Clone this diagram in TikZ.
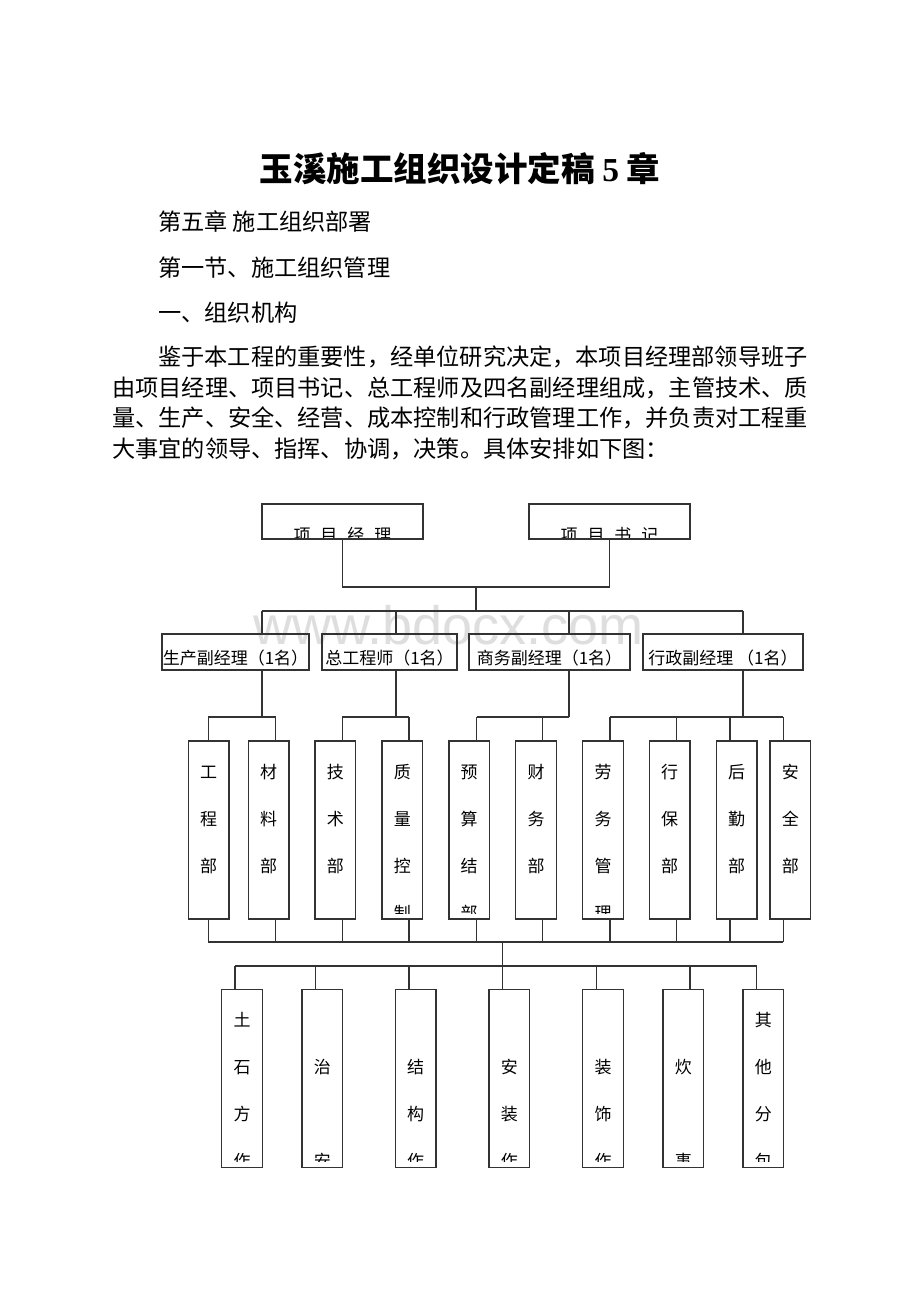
\documentclass[tikz,border=0pt]{standalone}
\usepackage{fontspec}
\setmainfont{Liberation Serif}
\newfontfamily\cjk{Noto Sans CJK SC}
\newfontfamily\wmfont{Liberation Sans}
\definecolor{linec}{gray}{0.2}
\definecolor{wmark}{gray}{0.87}

\begin{document}
\begin{tikzpicture}[x=1pt, y=-1pt,
    txt/.style={anchor=base west, inner sep=0pt, font=\cjk\fontsize{23.2}{28}\selectfont},
    lead/.style={draw=linec, line width=1.2pt, minimum width=161, minimum height=35, inner sep=0pt, outer sep=0pt,
        path picture={\node[anchor=base, inner sep=0pt, font=\cjk\fontsize{17}{17}\selectfont]
            at ([yshift=-37.5pt]path picture bounding box.north) {#1};}},
    mgr/.style={draw=linec, line width=1.2pt, minimum height=36, inner sep=0pt, outer sep=0pt,
        font=\cjk\fontsize{17}{17}\selectfont, text height=30.5pt, text depth=5.5pt},
    dept/.style={draw=linec, line width=1.2pt, minimum width=40.6, minimum height=178, inner sep=0pt, outer sep=0pt,
        path picture={\clip ([yshift=6pt]path picture bounding box.south west) rectangle (path picture bounding box.north east);
            \foreach \c [count=\i] in {#1} {\node[anchor=base, inner sep=0pt, font=\cjk\fontsize{17}{17}\selectfont]
                at ([yshift={10pt-\i*47pt}]path picture bounding box.north) {\c};}}},
    link/.style={draw=linec, line width=1.2pt}
]
    \useasboundingbox[fill=white] (0,0) rectangle (920,1302);

    % watermark behind the chart
    \node[anchor=base west, inner sep=0pt, text=wmark, font=\wmfont\fontsize{54}{54}\selectfont] (wm) at (253,644) {www.bdocx.com};

    % heading and text
    \node[anchor=base, inner sep=0pt, font=\cjk\bfseries\fontsize{33.5}{40}\selectfont] (title) at (460,181.7) {玉溪施工组织设计定稿 {\rmfamily\bfseries 5} 章};
    \node[txt] (h1) at (158,230.8) {第五章 施工组织部署};
    \node[txt] (h2) at (158,276.3) {第一节、施工组织管理};
    \node[txt] (h3) at (158,321.8) {一、组织机构};
    \node[txt] (p1) at (158,365.3) {鉴于本工程的重要性，经单位研究决定，本项目经理部领导班子};
    \node[txt] (p2) at (112,396.1) {由项目经理、项目书记、总工程师及四名副经理组成，主管技术、质};
    \node[txt] (p3) at (112,426.9) {量、生产、安全、经营、成本控制和行政管理工作，并负责对工程重};
    \node[txt] (p4) at (112,457.7) {大事宜的领导、指挥、协调，决策。具体安排如下图：};

    % leaders
    \node[lead={项\hspace{10pt}目\hspace{10pt}经\hspace{10pt}理}] (pm) at (342.5,521.5) {};
    \node[lead={项\hspace{10pt}目\hspace{10pt}书\hspace{10pt}记}] (sec) at (609.5,521.5) {};

    % deputy managers
    \node[mgr, minimum width=147] (m1) at (235.5,652) {生产副经理（1名）};
    \node[mgr, minimum width=135] (m2) at (389.5,652) {总工程师（1名）};
    \node[mgr, minimum width=161] (m3) at (549.5,652) {商务副经理（1名）};
    \node[mgr, minimum width=160] (m4) at (723,652) {行政副经理 （1名）};

    % departments
    \node[dept={工,程,部}] (d1) at (208.7,830) {};
    \node[dept={材,料,部}] (d2) at (268.7,830) {};
    \node[dept={技,术,部}] (d3) at (335.3,830) {};
    \node[dept={质,量,控,制}] (d4) at (402.3,830) {};
    \node[dept={预,算,结,部}] (d5) at (469.2,830) {};
    \node[dept={财,务,部}] (d6) at (536,830) {};
    \node[dept={劳,务,管,理}] (d7) at (603,830) {};
    \node[dept={行,保,部}] (d8) at (669.7,830) {};
    \node[dept={后,勤,部}] (d9) at (736.7,830) {};
    \node[dept={安,全,部}] (d10) at (790.3,830) {};

    % work teams
    \node[dept={土,石,方,作}] (b1) at (242,1078.8) {};
    \node[dept={{},治,{},安}] (b2) at (322.3,1078.8) {};
    \node[dept={{},结,构,作}] (b3) at (415.7,1078.8) {};
    \node[dept={{},安,装,作}] (b4) at (509.3,1078.8) {};
    \node[dept={{},装,饰,作}] (b5) at (603,1078.8) {};
    \node[dept={{},炊,{},事}] (b6) at (683.3,1078.8) {};
    \node[dept={其,他,分,包}] (b7) at (763.3,1078.8) {};

    % junction points
    \coordinate (top) at (476,587);
    \coordinate (mbus) at (476,611);
    \coordinate (ma1) at (262,611);
    \coordinate (ma2) at (396,611);
    \coordinate (ma3) at (569,611);
    \coordinate (ma4) at (743,611);
    \coordinate (da1) at (208.3,717);
    \coordinate (da2) at (275.7,717);
    \coordinate (da3) at (342.3,717);
    \coordinate (da4) at (409,717);
    \coordinate (da5) at (476.7,717);
    \coordinate (da6) at (542.7,717);
    \coordinate (da7) at (610,717);
    \coordinate (da8) at (676.7,717);
    \coordinate (da9) at (730,717);
    \coordinate (da10) at (783.3,717);
    \coordinate (dbus) at (502.7,942);
    \coordinate (lbus) at (502.7,966);
    \coordinate (la1) at (235,966);
    \coordinate (la2) at (315.7,966);
    \coordinate (la3) at (409,966);
    \coordinate (la4) at (502.7,966);
    \coordinate (la5) at (596.7,966);
    \coordinate (la6) at (690,966);
    \coordinate (la7) at (756.7,966);

    % leaders to deputies
    \draw[link] (pm.south) |- (top) -| (sec.south);
    \draw[link] (top) -- (mbus);
    \draw[link] (ma1) -- (ma4);
    \draw[link] (ma1) -- (ma1 |- m1.north);
    \draw[link] (ma2) -- (ma2 |- m2.north);
    \draw[link] (ma3) -- (ma3 |- m3.north);
    \draw[link] (ma4) -- (ma4 |- m4.north);

    % deputies to departments
    \draw[link] (m1.south -| ma1) -- (ma1 |- da1);
    \draw[link] (m2.south -| ma2) -- (ma2 |- da3);
    \draw[link] (m3.south -| ma3) -- (ma3 |- da5);
    \draw[link] (m4.south -| ma4) -- (ma4 |- da7);
    \draw[link] (da1) -- (da2);
    \draw[link] (da3) -- (da4);
    \draw[link] (da5) -- (ma3 |- da5);
    \draw[link] (da7) -- (da10);
    \draw[link] (da1) -- (da1 |- d1.north);
    \draw[link] (da2) -- (da2 |- d2.north);
    \draw[link] (da3) -- (da3 |- d3.north);
    \draw[link] (da4) -- (da4 |- d4.north);
    \draw[link] (da5) -- (da5 |- d5.north);
    \draw[link] (da6) -- (da6 |- d6.north);
    \draw[link] (da7) -- (da7 |- d7.north);
    \draw[link] (da8) -- (da8 |- d8.north);
    \draw[link] (da9) -- (da9 |- d9.north);
    \draw[link] (da10) -- (da10 |- d10.north);

    % departments to work teams
    \draw[link] (da1 |- d1.south) -- (da1 |- dbus);
    \draw[link] (da2 |- d2.south) -- (da2 |- dbus);
    \draw[link] (da3 |- d3.south) -- (da3 |- dbus);
    \draw[link] (da4 |- d4.south) -- (da4 |- dbus);
    \draw[link] (da5 |- d5.south) -- (da5 |- dbus);
    \draw[link] (da6 |- d6.south) -- (da6 |- dbus);
    \draw[link] (da7 |- d7.south) -- (da7 |- dbus);
    \draw[link] (da8 |- d8.south) -- (da8 |- dbus);
    \draw[link] (da9 |- d9.south) -- (da9 |- dbus);
    \draw[link] (da10 |- d10.south) -- (da10 |- dbus);
    \draw[link] (da1 |- dbus) -- (da10 |- dbus);
    \draw[link] (dbus) -- (lbus);
    \draw[link] (la1) -- (la7);
    \draw[link] (la1) -- (la1 |- b1.north);
    \draw[link] (la2) -- (la2 |- b2.north);
    \draw[link] (la3) -- (la3 |- b3.north);
    \draw[link] (la4) -- (la4 |- b4.north);
    \draw[link] (la5) -- (la5 |- b5.north);
    \draw[link] (la6) -- (la6 |- b6.north);
    \draw[link] (la7) -- (la7 |- b7.north);
\end{tikzpicture}
\end{document}
